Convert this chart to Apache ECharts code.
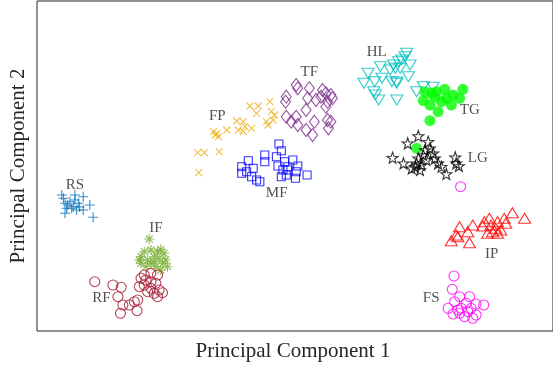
<!DOCTYPE html>
<html>
<head>
<meta charset="utf-8">
<script src="https://cdn.jsdelivr.net/npm/echarts@6/dist/echarts.min.js"></script>
<style>
  html, body { margin: 0; padding: 0; background: #fff; }
  #chart { width: 553px; height: 371px; }
</style>
</head>
<body>
<div id="chart"></div>
<script>
// PCA scores, [PC1, PC2]
const RS = [[26,136],[27.7,132.7],[39.3,136],[47.7,134.3],[29.3,127.7],[34.3,129.3],[39.3,131],[42.7,127.7],
  [54.3,126],[31,122.7],[36,122.7],[41,121],[47.7,121],[57.7,113.7],[29.3,117.7],[37.7,124.3],[32,126],[44,124]];
const IF = [[114.3,92],[109.3,79.3],[116,81],[126,81.7],[129.3,77.7],[104.3,71],[106,67.7],[112.7,71],[119.3,74.3],
  [124.3,72.7],[127.7,67.7],[132.7,64.3],[121,64.3],[116,67.7],[111,64.3],[122.7,79.3],[131,71],[119.3,69.3],[126,61],[106,74.3]];
const RF = [[59.3,49.3],[77.7,46],[86,43.7],[82.7,34.3],[87.7,26],[94.3,26],[99.3,29.3],[102.7,31],[102,20.3],[85.3,17.7],
  [106,52.7],[109.3,56],[116,57.7],[122.7,56],[104.3,44.3],[109.3,46],[116,42.7],[121,47.7],[124.3,41],[119.3,37.7],
  [112.7,39.3],[122.7,34.3],[127.7,38.3],[116,49.3],[111,51]];
const FP = [[164.3,158.3],[163.3,178.3],[170,178.3],[185,179.3],[179.3,199.3],[182.7,197.7],[184.3,194.3],[192.7,201],
  [202.7,210],[209.3,209.3],[204.3,201],[209.3,199.3],[217.7,202.7],[216,225],[224.3,225],[222.7,217.7],[236,229.3],
  [237.7,219.3],[241,216],[239.3,211],[232.7,209.3],[234.3,206],[211,204.3],[181,196]];
const TF = [[252.7,234.3],[252,229.3],[262.7,246],[264.3,242.7],[276,242.7],[274.3,232.7],[282.7,231],[289.3,241],
  [292.7,237.7],[297.7,236],[287.7,234.3],[294.3,229.3],[292.7,224.3],[252.7,214.3],[257.7,209.3],[262.7,214.3],
  [264.3,206],[272.7,221],[272.7,201],[279.3,196],[281,209.3],[294.3,211],[295.3,202.7],[297.7,209.3],[299.3,232.7]];
const MF = [[245.3,187],[247.7,180.3],[231,176],[231,169.3],[214.3,170.3],[219.3,162.7],[207.7,164.3],[207.7,157.7],
  [212.7,159.3],[217.7,154.3],[222.7,151],[226,149.3],[242.7,174.3],[244.3,165],[251,169.3],[254.3,164.3],[259.3,171],
  [264.3,165],[262.7,159.3],[252.7,156],[247.7,154.3],[273.7,156],[262,152.7],[254.3,161],[249.3,161]];
const HL = [[335.3,257.7],[331,247.7],[342,249.3],[347.7,264.3],[349.3,252.7],[357.7,261],[359.3,249.3],[364.3,247.7],
  [366,269.3],[369.3,271],[374.3,277.7],[377.7,266],[362.7,262.7],[367.7,262.7],[376,254.3],[341,239.3],[346,231],
  [364.3,231],[372.7,274.3],[384.3,239.3],[391,244.3],[401,243.7],[342.7,236],[364,249],[361,266]];
const TG = [[392.7,239.3],[391,230.3],[397.7,226],[402.7,234.3],[406,219.3],[404.3,239.3],[412.7,241.7],[414.3,232.7],
  [419.3,226],[421,236],[427.7,232.7],[431,241.7],[409.3,229.3],[399.3,237.7],[397.7,210.3],[384.3,182.7]];
const LG = [[386,195],[375.3,187.7],[360,173.3],[371,167.7],[379.3,162.7],[387.7,161],[384.3,167.7],[386,172.7],
  [391,176],[396,189.3],[397.7,182.7],[401,177.7],[402.7,172.7],[406,167.7],[409.3,164.3],[414.3,157],[423.3,173.7],
  [424.3,167.7],[427,165],[394.3,171],[382.7,164.3],[389.3,166],[392.7,181]];
const IP = [[419.3,90.3],[426,94.3],[427.7,104.3],[437.7,88.3],[436,99.3],[441,106],[451,105],[452.7,109.3],
  [457.7,112.7],[459.3,106],[466,109.3],[472.7,112.7],[474.3,107.7],[481,118.3],[493.3,112.7],[456,97.7],[461,99.3],
  [466,97.7],[469.3,101],[464.3,102.7],[424.3,96]];
const FS = [[428.7,144.3],[422,55],[420.3,41.7],[427.7,34.3],[437.7,34.3],[416,22.7],[422.7,29.3],[429.3,22.7],
  [434.3,27.7],[444.3,27],[452,26],[421,17],[427.7,17.7],[436,19.3],[441,12.7],[444.3,16],[432.7,14.3],[426,21],[439.3,22.7]];

// class name tags and where they sit
const tagNames = ['RS', 'IF', 'RF', 'FP', 'TF', 'MF', 'HL', 'TG', 'LG', 'IP', 'FS'];
const tagPos = [[39.3,146],[121,103],[66,33],[183,215],[276,259],[243,138],[344,279],[438,221],[446,173],[460,77],[399,33]];

const PLUS = 'path://M0,-5L0,5M-5,0L5,0';
const CROSS = 'path://M-5,-5L5,5M-5,5L5,-5';
const ASTER = 'path://M0,-5L0,5M-5,0L5,0M-3.5,-3.5L3.5,3.5M-3.5,3.5L3.5,-3.5';
const STAR = 'path://M0,-10L2.35,-3.24L9.51,-3.09L3.8,1.24L5.88,8.09L0,4.2L-5.88,8.09L-3.8,1.24L-9.51,-3.09L-2.35,-3.24Z';

function hollow(name, data, symbol, size, color, rotate) {
    return {
        name: name,
        type: 'scatter',
        data: data,
        symbol: symbol,
        symbolSize: size,
        symbolRotate: rotate || 0,
        itemStyle: { color: 'transparent', borderColor: color, borderWidth: 1.1 }
    };
}

const myChart = echarts.init(document.getElementById('chart'));
const option = {
    animation: false,
    grid: {
        left: 35, right: -3, top: 1, bottom: 40,
        show: true, borderColor: '#262626', borderWidth: 1
    },
    xAxis: {
        type: 'value', min: 1, max: 522,
        name: 'Principal Component 1', nameLocation: 'middle', nameGap: 10,
        nameTextStyle: { fontFamily: 'Liberation Serif', fontSize: 21, color: '#262626', verticalAlign: 'top', padding: [0, 0, 0, -4] },
        axisLine: { show: false }, axisTick: { show: false }, axisLabel: { show: false }, splitLine: { show: false }
    },
    yAxis: {
        type: 'value', min: 0, max: 330,
        name: 'Principal Component 2', nameLocation: 'middle', nameGap: 8,
        nameTextStyle: { fontFamily: 'Liberation Serif', fontSize: 21, color: '#262626', verticalAlign: 'bottom' },
        axisLine: { show: false }, axisTick: { show: false }, axisLabel: { show: false }, splitLine: { show: false }
    },
    series: [
        hollow('RS', RS, PLUS, 10, '#0072BD'),
        hollow('IF', IF, ASTER, 10, '#77AC30'),
        hollow('RF', RF, 'circle', 10, '#A2142F'),
        hollow('FP', FP, CROSS, 7, '#EDB120'),
        hollow('TF', TF, 'diamond', [10, 13], '#7E2F8E'),
        hollow('MF', MF, 'rect', 8, '#0000FF'),
        hollow('HL', HL, 'triangle', [12, 10], '#00BFBF', 180),
        {
            name: 'TG', type: 'scatter', data: TG, symbol: 'circle', symbolSize: 11,
            itemStyle: { color: '#00FF00' }
        },
        hollow('LG', LG, STAR, 11, '#000000'),
        hollow('IP', IP, 'triangle', [12, 10], '#FF0000'),
        hollow('FS', FS, 'circle', 10, '#FF00FF'),
        {
            name: 'tags', type: 'scatter', symbolSize: 1,
            itemStyle: { color: 'transparent' },
            data: tagNames.map((n, i) => ({ name: n, value: tagPos[i] })),
            label: {
                show: true, position: 'inside', formatter: '{b}',
                fontFamily: 'Liberation Serif', fontSize: 15, color: '#262626'
            }
        }
    ]
};
window.onresize = () => {
    myChart.resize();
};
myChart.setOption(option);
</script>
</body>
</html>
